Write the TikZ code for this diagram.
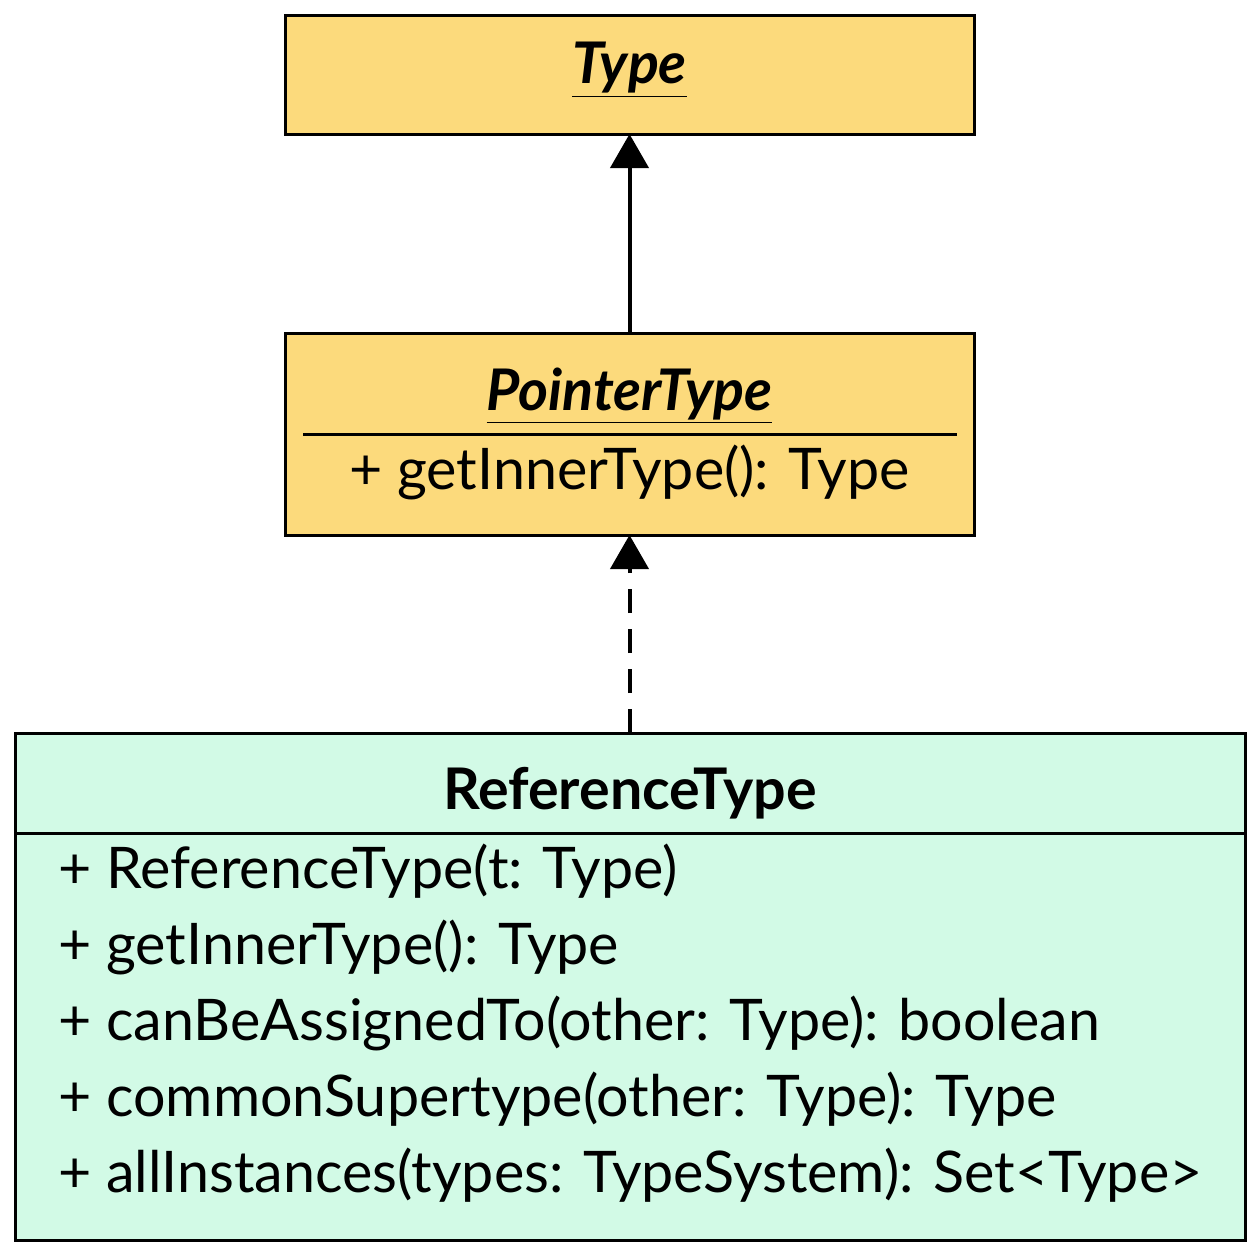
\documentclass[tikz,border=0pt]{standalone}
\usepackage{fontspec}
\setmainfont{Lato}
\usetikzlibrary{arrows.meta}
\definecolor{ylw}{HTML}{FCDA7C}
\definecolor{mint}{HTML}{D2FAE6}
\begin{document}
\begin{tikzpicture}[x=0.5pt,y=-0.5pt,
  box/.style={draw=black,line width=1.5pt},
  txt/.style={font=\fontsize{28.7}{34}\selectfont,inner sep=0pt},
  meth/.style={txt,anchor=west},
  arr/.style={line width=2pt,-{Triangle[length=17pt,width=19pt]}}]
\useasboundingbox (0,0) rectangle (1260,1255);
\draw[box,fill=ylw] (285,15) rectangle (974,134);
\node[txt] (type) at (629.5,70) {\textbf{\textit{\underline{Type}}}};
\coordinate (typeb) at (629.5,134);
\draw[box,fill=ylw] (285,333) rectangle (974,535);
\node[txt] (ptr) at (629.5,396) {\textbf{\textit{\underline{PointerType}}}};
\draw[line width=1.5pt] (303,434) -- (957,434);
\node[txt] (pm) at (629.5,472) {+ getInnerType(): Type};
\coordinate (ptrt) at (629.5,333);
\coordinate (ptrb) at (629.5,535);
\draw[box,fill=mint] (15,733) rectangle (1245,1240);
\node[txt] (ref) at (630,793) {\textbf{ReferenceType}};
\draw[line width=1.5pt] (15,833) -- (1245,833);
\coordinate (reft) at (629.5,733);
\node[meth] (m1) at (58,871) {+ ReferenceType(t: Type)};
\node[meth] (m2) at (58,947) {+ getInnerType(): Type};
\node[meth] (m3) at (58,1023) {+ canBeAssignedTo(other: Type): boolean};
\node[meth] (m4) at (58,1099) {+ commonSupertype(other: Type): Type};
\node[meth] (m5) at (58,1175) {+ allInstances(types: TypeSystem): Set<Type>};
\draw[arr] (ptrt) -- (typeb);
\draw[arr,dash pattern=on 12pt off 8pt] (reft) -- (ptrb);
\end{tikzpicture}
\end{document}
